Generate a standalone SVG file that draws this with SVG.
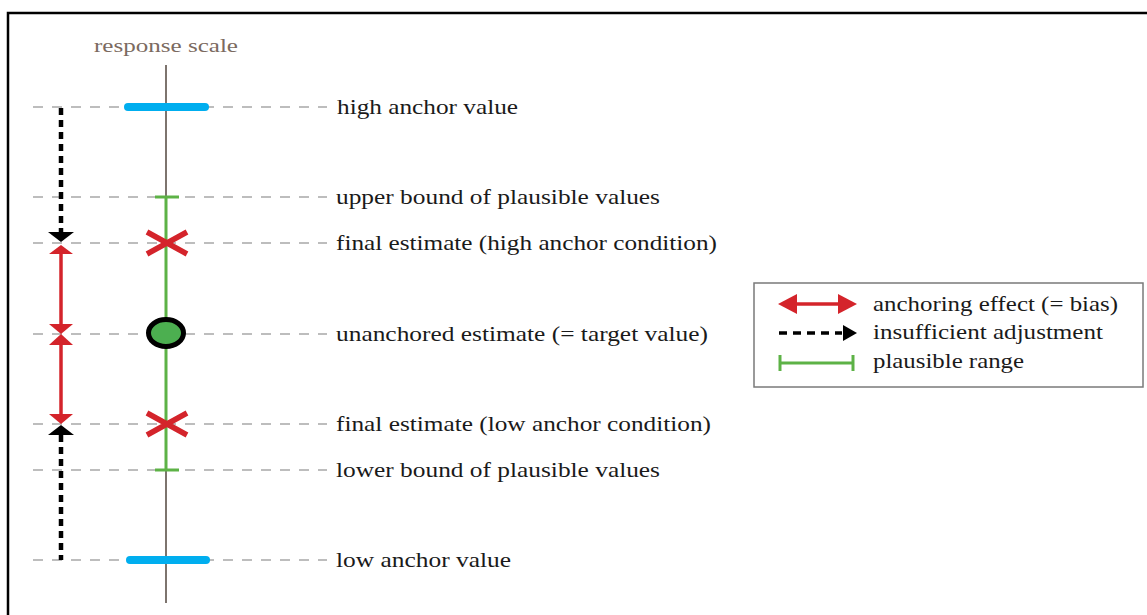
<svg xmlns="http://www.w3.org/2000/svg" width="1147" height="615" viewBox="0 0 1147 615">
<style>
.t{font-family:"Liberation Serif","Times New Roman",serif;font-size:21px;fill:#1a1a1a}
.g{stroke:#a8a8a8;stroke-width:1.5;stroke-dasharray:10 9;fill:none}
.red{stroke:#d4242b;stroke-width:3.5;fill:none}
.redf{fill:#d4242b}
.x{stroke:#d4242b;stroke-width:5.5;fill:none}
.dot{stroke:#000;stroke-width:4.5;stroke-dasharray:7 5;fill:none}
.grn{stroke:#5db246;stroke-width:3;fill:none}
.blue{stroke:#00aeef;stroke-width:8;stroke-linecap:round}
</style>
<rect x="0" y="0" width="1147" height="615" fill="#fff"/>
<rect x="8" y="13" width="1200" height="700" fill="none" stroke="#000" stroke-width="2.5"/>
<g id="guides">
<line class="g" x1="33" y1="107" x2="327" y2="107"/>
<line class="g" x1="33" y1="197" x2="327" y2="197"/>
<line class="g" x1="33" y1="243" x2="327" y2="243"/>
<line class="g" x1="33" y1="334" x2="327" y2="334"/>
<line class="g" x1="33" y1="424" x2="327" y2="424"/>
<line class="g" x1="33" y1="470" x2="327" y2="470"/>
<line class="g" x1="33" y1="560" x2="327" y2="560"/>
</g>
<g id="axis">
<text x="166" y="52" text-anchor="middle" style="font-family:'Liberation Serif','Times New Roman',serif;font-size:19px;fill:#7b6a60" textLength="144" lengthAdjust="spacingAndGlyphs">response scale</text>
<line x1="166" y1="65" x2="166" y2="603" stroke="#7d746e" stroke-width="2"/>
</g>
<g id="plausible-range">
<line class="grn" x1="166" y1="197" x2="166" y2="470"/>
<line class="grn" x1="155" y1="197" x2="179" y2="197"/>
<line class="grn" x1="155" y1="470" x2="179" y2="470"/>
</g>
<g id="high-anchor">
<line class="blue" x1="128" y1="107" x2="205" y2="107"/>
<text class="t" x="337" y="114" textLength="181" lengthAdjust="spacingAndGlyphs">high anchor value</text>
</g>
<g id="upper-bound">
<text class="t" x="336" y="204" textLength="324" lengthAdjust="spacingAndGlyphs">upper bound of plausible values</text>
</g>
<g id="final-high">
<path class="x" d="M147 232 L187 254 M147 254 L187 232"/>
<text class="t" x="336" y="250" textLength="381" lengthAdjust="spacingAndGlyphs">final estimate (high anchor condition)</text>
</g>
<g id="unanchored">
<ellipse cx="166" cy="333" rx="17.5" ry="13.5" fill="#4caf50" stroke="#000" stroke-width="5"/>
<text class="t" x="336" y="341" textLength="372" lengthAdjust="spacingAndGlyphs">unanchored estimate (= target value)</text>
</g>
<g id="final-low">
<path class="x" d="M147 413 L187 435 M147 435 L187 413"/>
<text class="t" x="336" y="431" textLength="375" lengthAdjust="spacingAndGlyphs">final estimate (low anchor condition)</text>
</g>
<g id="lower-bound">
<text class="t" x="336" y="477" textLength="324" lengthAdjust="spacingAndGlyphs">lower bound of plausible values</text>
</g>
<g id="low-anchor">
<line class="blue" x1="130" y1="560" x2="206" y2="560"/>
<text class="t" x="336" y="567" textLength="175" lengthAdjust="spacingAndGlyphs">low anchor value</text>
</g>
<g id="connectors">
<line class="dot" x1="61" y1="108" x2="61" y2="233"/>
<polygon points="48,232 74,232 61,242" fill="#000"/>
<line class="red" x1="61" y1="252" x2="61" y2="326"/>
<polygon class="redf" points="61,245 49,254 73,254"/>
<polygon class="redf" points="61,334 49,324 73,324"/>
<line class="red" x1="61" y1="342" x2="61" y2="417"/>
<polygon class="redf" points="61,334 49,345 73,345"/>
<polygon class="redf" points="61,424 49,414 73,414"/>
<polygon points="48,435 74,435 61,425" fill="#000"/>
<line class="dot" x1="61" y1="435" x2="61" y2="560"/>
</g>
<g id="legend">
<rect x="754" y="283" width="389" height="104" fill="#fff" stroke="#7a7a7a" stroke-width="1.5"/>
<line class="red" x1="792" y1="304" x2="843" y2="304"/>
<polygon class="redf" points="778,304 797,294 797,314"/>
<polygon class="redf" points="857,304 838,294 838,314"/>
<line x1="779" y1="333" x2="842" y2="333" stroke="#000" stroke-width="3.5" stroke-dasharray="8 6"/>
<polygon points="857,333 843,325 843,341" fill="#000"/>
<line class="grn" x1="780" y1="363" x2="853" y2="363"/>
<line class="grn" x1="780" y1="355" x2="780" y2="371"/>
<line class="grn" x1="853" y1="355" x2="853" y2="371"/>
<text class="t" x="873" y="311" textLength="245" lengthAdjust="spacingAndGlyphs">anchoring effect (= bias)</text>
<text class="t" x="873" y="339" textLength="230" lengthAdjust="spacingAndGlyphs">insufficient adjustment</text>
<text class="t" x="873" y="368" textLength="151" lengthAdjust="spacingAndGlyphs">plausible range</text>
</g>
</svg>
